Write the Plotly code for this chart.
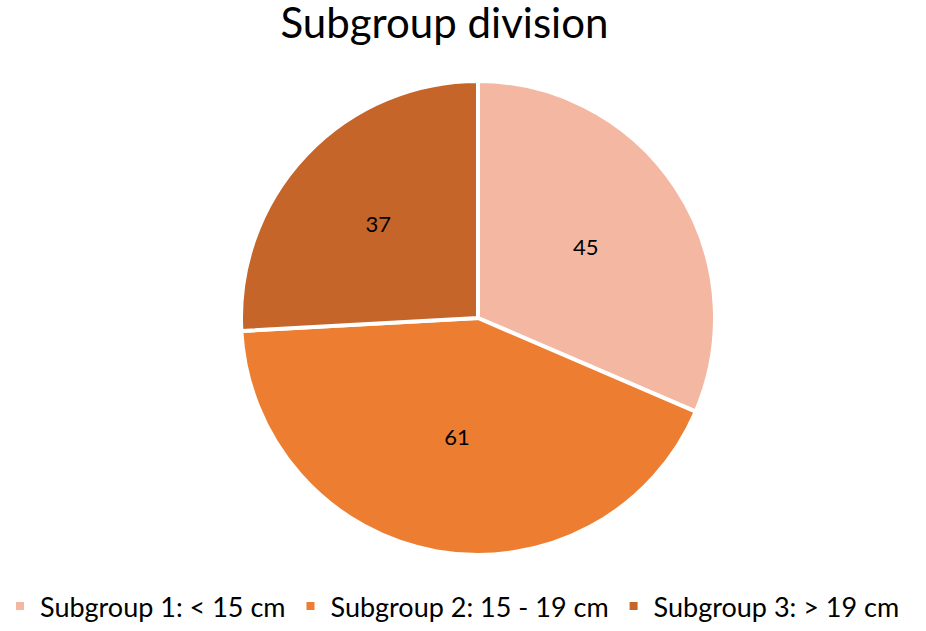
import plotly.graph_objects as go

labels = ["Subgroup 1: < 15 cm", "Subgroup 2: 15 - 19 cm", "Subgroup 3: > 19 cm"]
values = [45, 61, 37]
colors = ["#F4B7A2", "#ED7D31", "#C5652A"]

fig = go.Figure(go.Pie(
    labels=labels,
    values=values,
    sort=False,
    direction="clockwise",
    rotation=0,
    domain=dict(x=[0.0324, 1.0], y=[0, 1]),
    marker=dict(colors=colors, line=dict(color="white", width=4)),
    textinfo="value",
    textposition="inside",
    insidetextorientation="horizontal",
    textfont=dict(size=22, color="black", family="Lato"),
    hoverinfo="label+value",
))

fig.update_layout(
    width=926, height=631,
    margin=dict(l=0, r=0, t=81, b=76),
    paper_bgcolor="white",
    plot_bgcolor="white",
    font=dict(family="Lato", color="black"),
    title=dict(text="Subgroup division", x=0.48, xanchor="center", y=0.987, yanchor="top",
               yref="container", pad=dict(t=0, b=0),
               font=dict(size=42, family="Lato", color="black")),
    legend=dict(orientation="h", x=0, xanchor="left", xref="container",
                y=-0.011, yanchor="bottom", yref="container",
                font=dict(size=27, family="Lato", color="black"), itemwidth=30,
                traceorder="normal"),
    showlegend=True,
)

fig.write_html("out.html", config={"displayModeBar": False},
               post_script="document.body.style.margin='0';")
